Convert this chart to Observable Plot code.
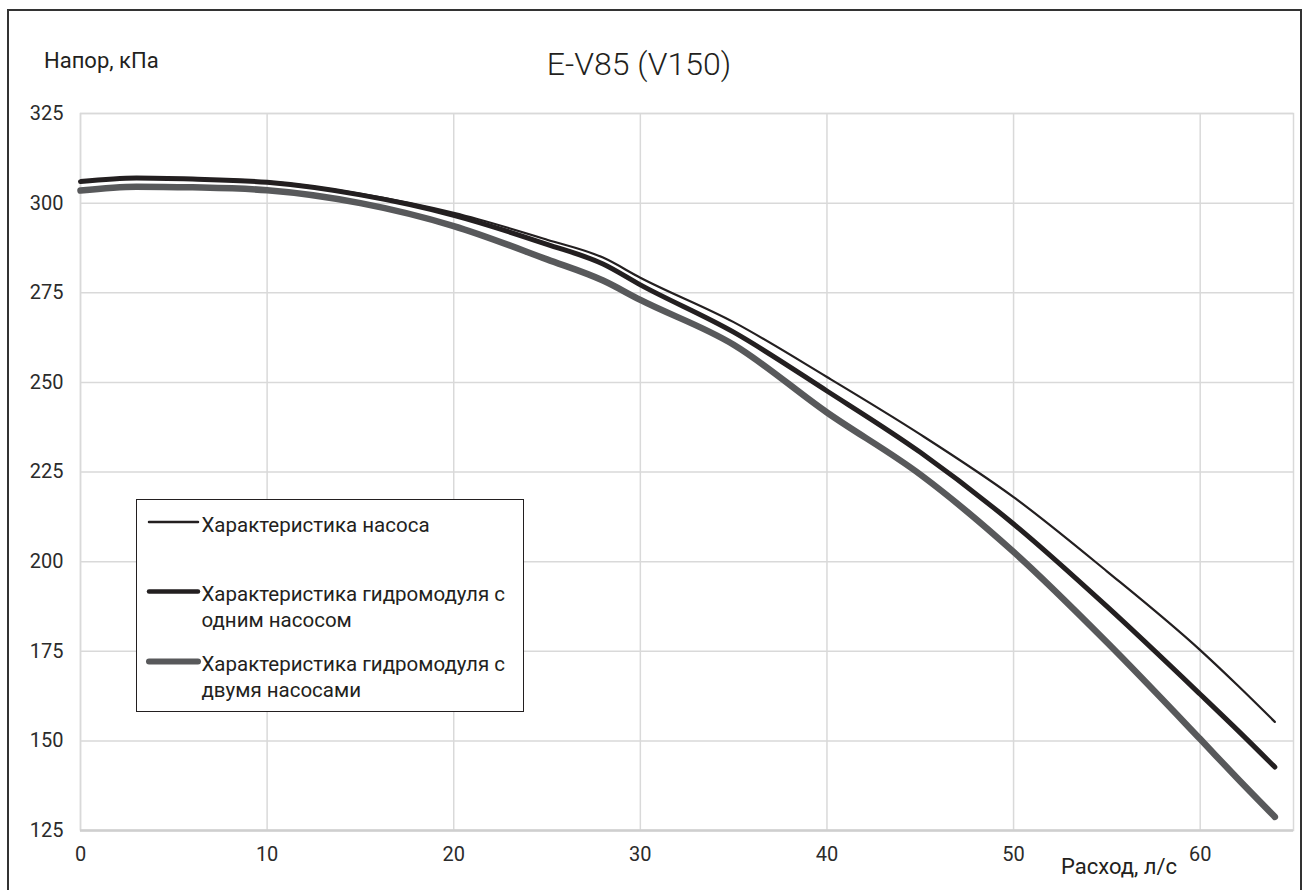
<!DOCTYPE html>
<html>
<head>
<meta charset="utf-8">
<script src="https://cdn.jsdelivr.net/npm/d3@7"></script>
<script src="https://cdn.jsdelivr.net/npm/@observablehq/plot@0.6"></script>
<style>
  html, body { margin: 0; padding: 0; background: #fff; }
  #wrap { position: relative; width: 1306px; height: 890px; overflow: hidden; font-family: Roboto, "Noto Sans", sans-serif; color: #231f20; }
  #border { position: absolute; left: 7px; top: 9px; width: 1295px; height: 900px; border: 2px solid #333; box-sizing: border-box; }
  #chart { position: absolute; left: 0; top: 0; }
  .lbl { position: absolute; white-space: nowrap; line-height: 1; }
  #legend { position: absolute; left: 136px; top: 499px; width: 388px; height: 213px; background: #fff; border: 1.5px solid #231f20; box-sizing: border-box; }
</style>
</head>
<body>
<div id="wrap">
  <div id="border"></div>
  <div id="chart"></div>
</div>
<script>
// ---- data ----
const flow = [0, 3, 6, 10, 15, 20, 25, 28, 30, 35, 40, 45, 50, 55, 60, 62, 64];
const pumpHead = [306, 307, 306.8, 306, 302.6, 297.3, 289.8, 284.8, 279.2, 266.8, 251.5, 235.5, 218, 197.3, 175.3, 165.5, 155.3];
const oneModuleHead = [306, 307, 306.7, 305.8, 302.3, 296.6, 288.5, 283, 277.2, 264, 247.6, 230.5, 210.5, 187.5, 163, 153, 142.7];
const twoModuleHead = [303.5, 304.6, 304.4, 303.6, 300, 293.6, 284.3, 278.4, 273, 260.5, 241.6, 224.3, 202.7, 177.5, 150.5, 139.5, 128.8];
const xTicks = [0, 10, 20, 30, 40, 50, 60];
const yTicks = [125, 150, 175, 200, 225, 250, 275, 300, 325];
const legendLines = [
  ["Характеристика насоса"],
  ["Характеристика гидромодуля с", "одним насосом"],
  ["Характеристика гидромодуля с", "двумя насосами"]
];
const titleText = "E-V85 (V150)";
const yLabel = "Напор, кПа";
const xLabel = "Расход, л/с";

const mk = (vals) => flow.map((x, i) => ({x, y: vals[i]}));
const pumpData = mk(pumpHead);
const oneData = mk(oneModuleHead);
const twoData = mk(twoModuleHead);

const colors = ["#231f20", "#231f20", "#58595b"];
const widths = [2.2, 5, 6.5];

const chart = Plot.plot({
  width: 1306,
  height: 890,
  marginLeft: 80,
  marginRight: 13,
  marginTop: 113,
  marginBottom: 60,
  x: {domain: [0, 65], label: null},
  y: {domain: [125, 325], label: null},
  style: {fontFamily: "Roboto, 'Noto Sans', sans-serif", fontSize: "20px", color: "#333", background: "transparent", overflow: "visible"},
  marks: [
    Plot.gridX(xTicks, {stroke: "#d9d9d9", strokeOpacity: 1, strokeWidth: 1.5}),
    Plot.gridY(yTicks, {stroke: "#d9d9d9", strokeOpacity: 1, strokeWidth: 1.5}),
    Plot.frame({stroke: "#d9d9d9", strokeWidth: 1.5}),
    Plot.ruleY([125], {stroke: "#cfcfcf", strokeWidth: 2.5}),
    Plot.axisX(xTicks, {tickSize: 0, tickPadding: 16, fill: "#2b2b2b", fontSize: 20}),
    Plot.axisY(yTicks, {tickSize: 0, tickPadding: 17, fill: "#2b2b2b", fontSize: 20}),
    Plot.line(twoData, {x: "x", y: "y", stroke: colors[2], strokeWidth: widths[2], curve: "monotone-x", strokeLinecap: "round", strokeLinejoin: "round"}),
    Plot.line(oneData, {x: "x", y: "y", stroke: colors[1], strokeWidth: widths[1], curve: "monotone-x", strokeLinecap: "round", strokeLinejoin: "round"}),
    Plot.line(pumpData, {x: "x", y: "y", stroke: colors[0], strokeWidth: widths[0], curve: "monotone-x", strokeLinecap: "round", strokeLinejoin: "round"})
  ]
});
document.getElementById("chart").appendChild(chart);

const wrap = document.getElementById("wrap");
function addLabel(text, styles) {
  const d = document.createElement("div");
  d.className = "lbl";
  d.textContent = text;
  Object.assign(d.style, styles);
  wrap.appendChild(d);
  return d;
}
// title
addLabel(titleText, {fontSize: "32px", top: "48px", left: "639px", transform: "translateX(-50%)", color: "#231f20", fontWeight: "300"});
// axis titles
addLabel(yLabel, {fontSize: "22px", top: "50px", left: "44px", color: "#231f20"});
addLabel(xLabel, {fontSize: "22px", top: "856px", left: "1061px", color: "#231f20"});

// legend
const leg = document.createElement("div");
leg.id = "legend";
wrap.appendChild(leg);
const NS = "http://www.w3.org/2000/svg";
const svg = document.createElementNS(NS, "svg");
svg.setAttribute("width", 388); svg.setAttribute("height", 213);
svg.style.position = "absolute"; svg.style.left = "-1.5px"; svg.style.top = "-1.5px";
leg.appendChild(svg);
const sampleY = [23, 92.5, 162.5];
const textTop = [16, 85, 155];
legendLines.forEach((lines, i) => {
  const ln = document.createElementNS(NS, "line");
  ln.setAttribute("x1", 13); ln.setAttribute("x2", 62);
  ln.setAttribute("y1", sampleY[i]); ln.setAttribute("y2", sampleY[i]);
  ln.setAttribute("stroke", colors[i]);
  ln.setAttribute("stroke-width", i === 0 ? 2.5 : widths[i] - 0.5);
  ln.setAttribute("stroke-linecap", "round");
  svg.appendChild(ln);
  lines.forEach((s, j) => {
    const d = document.createElement("div");
    d.className = "lbl";
    d.textContent = s;
    Object.assign(d.style, {fontSize: "20.5px", left: "64.5px", top: (textTop[i] + j * 26 - 1.5) + "px", color: "#231f20"});
    leg.appendChild(d);
  });
});
</script>
</body>
</html>
